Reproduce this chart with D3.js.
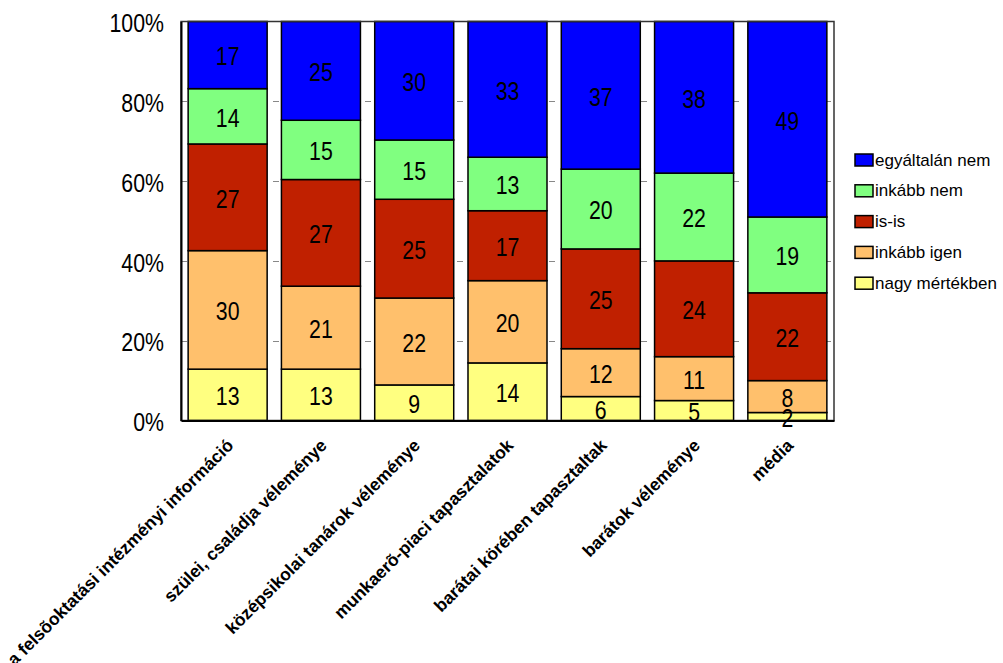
<!DOCTYPE html>
<html>
<head>
<meta charset="utf-8">
<script src="https://cdn.jsdelivr.net/npm/d3@7"></script>
<style>
  html, body { margin: 0; padding: 0; background: #fff; }
  svg { display: block; }
</style>
</head>
<body>
<svg id="chart" width="1003" height="663"></svg>
<script>
// ---- data ----
const categories = [
  "a felsõoktatási intézményi információ",
  "szülei, családja véleménye",
  "középsikolai tanárok véleménye",
  "munkaerõ-piaci tapasztalatok",
  "barátai körében tapasztaltak",
  "barátok véleménye",
  "média"
];
const seriesNames = ["nagy mértékben", "inkább igen", "is-is", "inkább nem", "egyáltalán nem"];
const nagyMertekben = [13, 13, 9, 14, 6, 5, 2];
const inkabbIgen    = [30, 21, 22, 20, 12, 11, 8];
const isIs          = [27, 27, 25, 17, 25, 24, 22];
const inkabbNem     = [14, 15, 15, 13, 20, 22, 19];
const egyaltalanNem = [17, 25, 30, 33, 37, 38, 49];
const yTicks = [0, 0.2, 0.4, 0.6, 0.8, 1.0];
const yTickLabels = ["0%", "20%", "40%", "60%", "80%", "100%"];
const colors = ["#FFFF80", "#FFC06C", "#C02000", "#80FF80", "#0000FF"];

const seriesValues = [nagyMertekben, inkabbIgen, isIs, inkabbNem, egyaltalanNem];
const table = categories.map((c, i) => {
  const row = { cat: c };
  seriesNames.forEach((s, j) => row[s] = seriesValues[j][i]);
  return row;
});

// ---- layout ----
const svg = d3.select("#chart");
const plot = { left: 181, right: 834, top: 21.5, bottom: 420.5 };
const sans = "'Liberation Sans', Arial, sans-serif";
const squeeze = 0.82; // emulate a narrow face

const x = d3.scaleBand().domain(categories)
  .range([plot.left, plot.right])
  .paddingInner(0.153).paddingOuter(0.0765);
const y = d3.scaleLinear().domain([0, 1]).range([plot.bottom, plot.top]);

const stack = d3.stack().keys(seriesNames).offset(d3.stackOffsetExpand);
const stacked = stack(table);

// dashed gridlines (behind bars)
svg.append("g").selectAll("line").data(yTicks.filter(t => t > 0 && t < 1)).join("line")
  .attr("x1", plot.left).attr("x2", plot.right)
  .attr("y1", d => Math.round(y(d)) + 0.5).attr("y2", d => Math.round(y(d)) + 0.5)
  .attr("stroke", "#888").attr("stroke-width", 1)
  .attr("stroke-dasharray", "6,40");

// bars
const gBars = svg.append("g");
stacked.forEach((layer, j) => {
  gBars.append("g").selectAll("rect").data(layer).join("rect")
    .attr("x", d => x(d.data.cat))
    .attr("width", x.bandwidth())
    .attr("y", d => y(d[1]))
    .attr("height", d => y(d[0]) - y(d[1]))
    .attr("fill", colors[j])
    .attr("stroke", "#000")
    .attr("stroke-width", 1.5);
});

// value labels
const gLab = svg.append("g");
stacked.forEach((layer, j) => {
  gLab.append("g").selectAll("text").data(layer).join("text")
    .attr("transform", d => `translate(${x(d.data.cat) + x.bandwidth() / 2},${(y(d[0]) + y(d[1])) / 2 + 1}) scale(${squeeze},1)`)
    .attr("text-anchor", "middle")
    .attr("dominant-baseline", "central")
    .attr("font-family", sans)
    .attr("font-size", 26)
    .attr("fill", "#000")
    .text(d => d.data[layer.key]);
});

// frame
svg.append("rect")
  .attr("x", plot.left).attr("y", plot.top)
  .attr("width", plot.right - plot.left).attr("height", plot.bottom - plot.top)
  .attr("fill", "none").attr("stroke", "#333").attr("stroke-width", 1.5);

// y axis
const yAxis = d3.axisLeft(y).tickValues(yTicks)
  .tickFormat((d, i) => yTickLabels[i]).tickSize(0).tickPadding(0);
const gy = svg.append("g").attr("transform", `translate(${plot.left},0)`).call(yAxis);
gy.select(".domain").attr("stroke", "#000").attr("stroke-width", 2);
gy.selectAll("text")
  .attr("x", 0).attr("dy", null)
  .attr("dominant-baseline", "central")
  .attr("transform", `translate(-17,1) scale(${squeeze},1)`)
  .attr("font-family", sans).attr("font-size", 26).attr("fill", "#000");

// x axis
const xAxis = d3.axisBottom(x).tickSize(0).tickFormat("");
const gx = svg.append("g").attr("transform", `translate(0,${plot.bottom})`).call(xAxis);
gx.select(".domain").attr("stroke", "#000").attr("stroke-width", 2);

svg.append("g").selectAll("text").data(categories).join("text")
  .attr("transform", d => `translate(${x(d) + x.bandwidth() / 2 + 7},${plot.bottom + 26}) rotate(-45)`)
  .attr("text-anchor", "end")
  .attr("font-family", sans)
  .attr("font-weight", "bold")
  .attr("font-size", 17.5)
  .attr("fill", "#000")
  .text(d => d);

// legend
const legendNames = seriesNames.slice().reverse();
const legendColors = colors.slice().reverse();
const gLeg = svg.append("g");
legendNames.forEach((n, i) => {
  const cy = 160 + i * 30.8;
  gLeg.append("rect")
    .attr("x", 855).attr("y", cy - 6).attr("width", 18).attr("height", 12)
    .attr("fill", legendColors[i]).attr("stroke", "#000").attr("stroke-width", 1.5);
  gLeg.append("text")
    .attr("x", 875).attr("y", cy)
    .attr("dominant-baseline", "central")
    .attr("font-family", sans)
    .attr("font-size", 17)
    .attr("fill", "#000")
    .text(n);
});
</script>
</body>
</html>
